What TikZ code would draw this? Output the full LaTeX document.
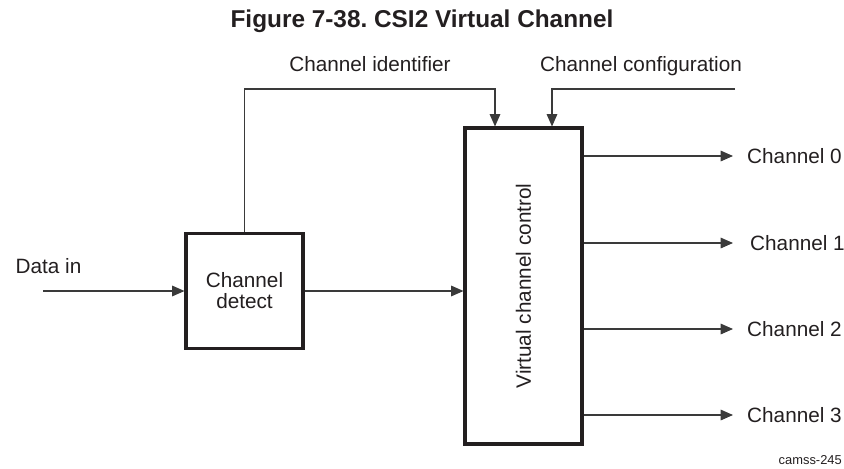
\documentclass[tikz,border=0pt]{standalone}
\usepackage{fontspec}
\setmainfont{Liberation Sans}
\usetikzlibrary{arrows.meta,positioning}
\definecolor{ink}{HTML}{231F20}
\definecolor{wire}{HTML}{3A3A3A}
\tikzset{
  block/.style={draw=ink,line width=2.6pt,fill=white,align=center,inner sep=0pt,text=ink,font=\fontsize{17.7}{18}\selectfont},
  lbl/.style={text=ink,font=\fontsize{17.7}{18}\selectfont,inner sep=0pt},
  arrow/.style={-{Triangle[length=10.5pt,width=9pt]},line width=1pt,draw=wire}
}
\begin{document}
\begin{tikzpicture}[
      x=0.03cm,y=-0.03cm,
      titletext/.style={text=ink,font=\bfseries\fontsize{20.8}{22}\selectfont,inner sep=0pt},
      tagtext/.style={text=ink,font=\fontsize{11}{12}\selectfont,inner sep=0pt}
    ]
      \useasboundingbox (0,0) rectangle (844,468);

      \node[titletext,anchor=base] (title) at (422,27) {Figure 7-38.\ CSI2 Virtual Channel};

      % blocks
      \node[block,minimum width=3.51cm,minimum height=3.45cm] (detect) at (244.5,291) {Channel\\detect};
      \node[block,minimum width=3.51cm,minimum height=9.48cm] (vcc) at (523.5,286) {\rotatebox{90}{Virtual channel control}};

      % labels
      \node[lbl,anchor=base] (ident) at (370,71.5) {Channel identifier};
      \node[lbl,anchor=base] (config) at (641,71.5) {Channel configuration};
      \node[lbl,anchor=base] (datain) at (48.5,273.5) {Data in};
      \coordinate (din) at (43,291);
      \coordinate (cfin) at (735,89);

      \draw[arrow] (din) -- (detect.west);
      \draw[arrow] (detect.east) -- (detect.east -| vcc.west);
      \draw[arrow] (detect.north) |- ([xshift=-0.855cm]vcc.north |- cfin) -- ([xshift=-0.855cm]vcc.north);
      \draw[arrow] (cfin) -| ([xshift=0.855cm]vcc.north);

      % outputs
      \foreach \i/\y/\dx in {0/156/0.42,1/243/0.51,2/329/0.42,3/415/0.42} {
        \node[lbl,anchor=west,inner xsep=\dx cm] (ch\i) at (733,\y) {Channel \i};
        \draw[arrow] (vcc.east |- ch\i.west) -- (ch\i.west);
      }

      \node[tagtext,anchor=base east] (tag) at (842,464.5) {camss-245};

    \end{tikzpicture}
\end{document}
